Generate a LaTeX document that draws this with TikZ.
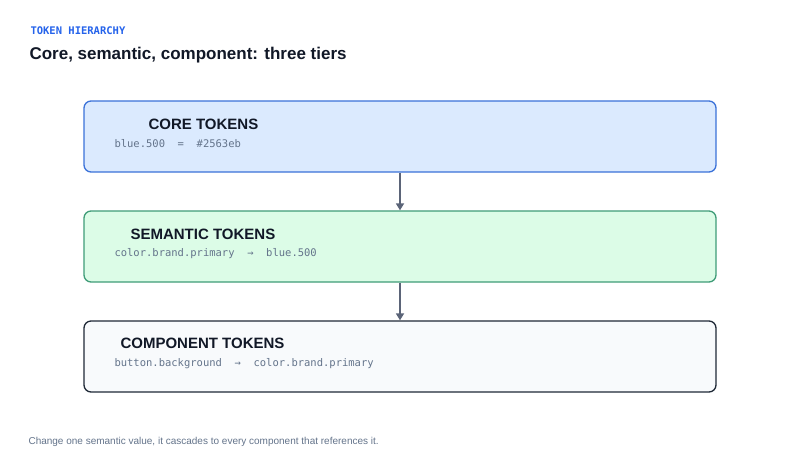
\documentclass[tikz,border=0pt]{standalone}
\usepackage{fontspec}
\setmainfont{Liberation Sans}
\setmonofont{DejaVu Sans Mono}
\usetikzlibrary{arrows.meta}
\definecolor{kblue}{HTML}{2563EB}
\definecolor{corefill}{HTML}{DBEAFE}
\definecolor{coreline}{HTML}{3B72D9}
\definecolor{semfill}{HTML}{DCFCE7}
\definecolor{semline}{HTML}{3F9C78}
\definecolor{compfill}{HTML}{F8FAFC}
\definecolor{compline}{HTML}{1F2937}
\definecolor{ink}{HTML}{111827}
\definecolor{codec}{HTML}{64748B}
\definecolor{arr}{HTML}{5B6478}
\begin{document}
\begin{tikzpicture}[x=1pt,y=-1pt,
  tier/.style={draw, line width=1.3pt, rounded corners=7pt, minimum width=632pt, minimum height=71pt, inner sep=0pt},
  head/.style={anchor=west, font=\fontsize{15}{18}\selectfont\bfseries, text=ink},
  code/.style={anchor=west, font=\fontsize{10.5}{12}\ttfamily, text=codec},
  link/.style={draw=arr, line width=1.6pt, -{Triangle[length=7pt,width=8pt]}}]
\useasboundingbox[fill=white] (0,0) rectangle (800,467);
\node[anchor=west, font=\fontsize{10.5}{12}\ttfamily\bfseries, text=kblue] (lab) at (27,31) {TOKEN HIERARCHY};
\node[anchor=west, font=\fontsize{17}{20}\selectfont\bfseries, text=ink] (title) at (26,55) {Core, semantic, component: three tiers};
\node[tier, fill=corefill, draw=coreline] (core) at (400,136.5) {};
\node[tier, fill=semfill, draw=semline] (sem) at (400,246.5) {};
\node[tier, fill=compfill, draw=compline] (comp) at (400,356.5) {};
\node[head] (h1) at (145,124) {CORE TOKENS};
\node[code] (c1) at (111,144) {blue.500 \ = \ \#2563eb};
\node[head] (h2) at (127,234) {SEMANTIC TOKENS};
\node[code] (c2) at (111,254) {color.brand.primary \ \textrightarrow\ \ blue.500};
\node[head] (h3) at (117,343) {COMPONENT TOKENS};
\node[code] (c3) at (111,364) {button.background \ \textrightarrow\ \ color.brand.primary};
\draw[link] (core.south) -- (sem.north);
\draw[link] (sem.south) -- (comp.north);
\node[anchor=west, font=\fontsize{10}{12}\selectfont, text=codec] (foot) at (25,442) {Change one semantic value, it cascades to every component that references it.};
\end{tikzpicture}
\end{document}
